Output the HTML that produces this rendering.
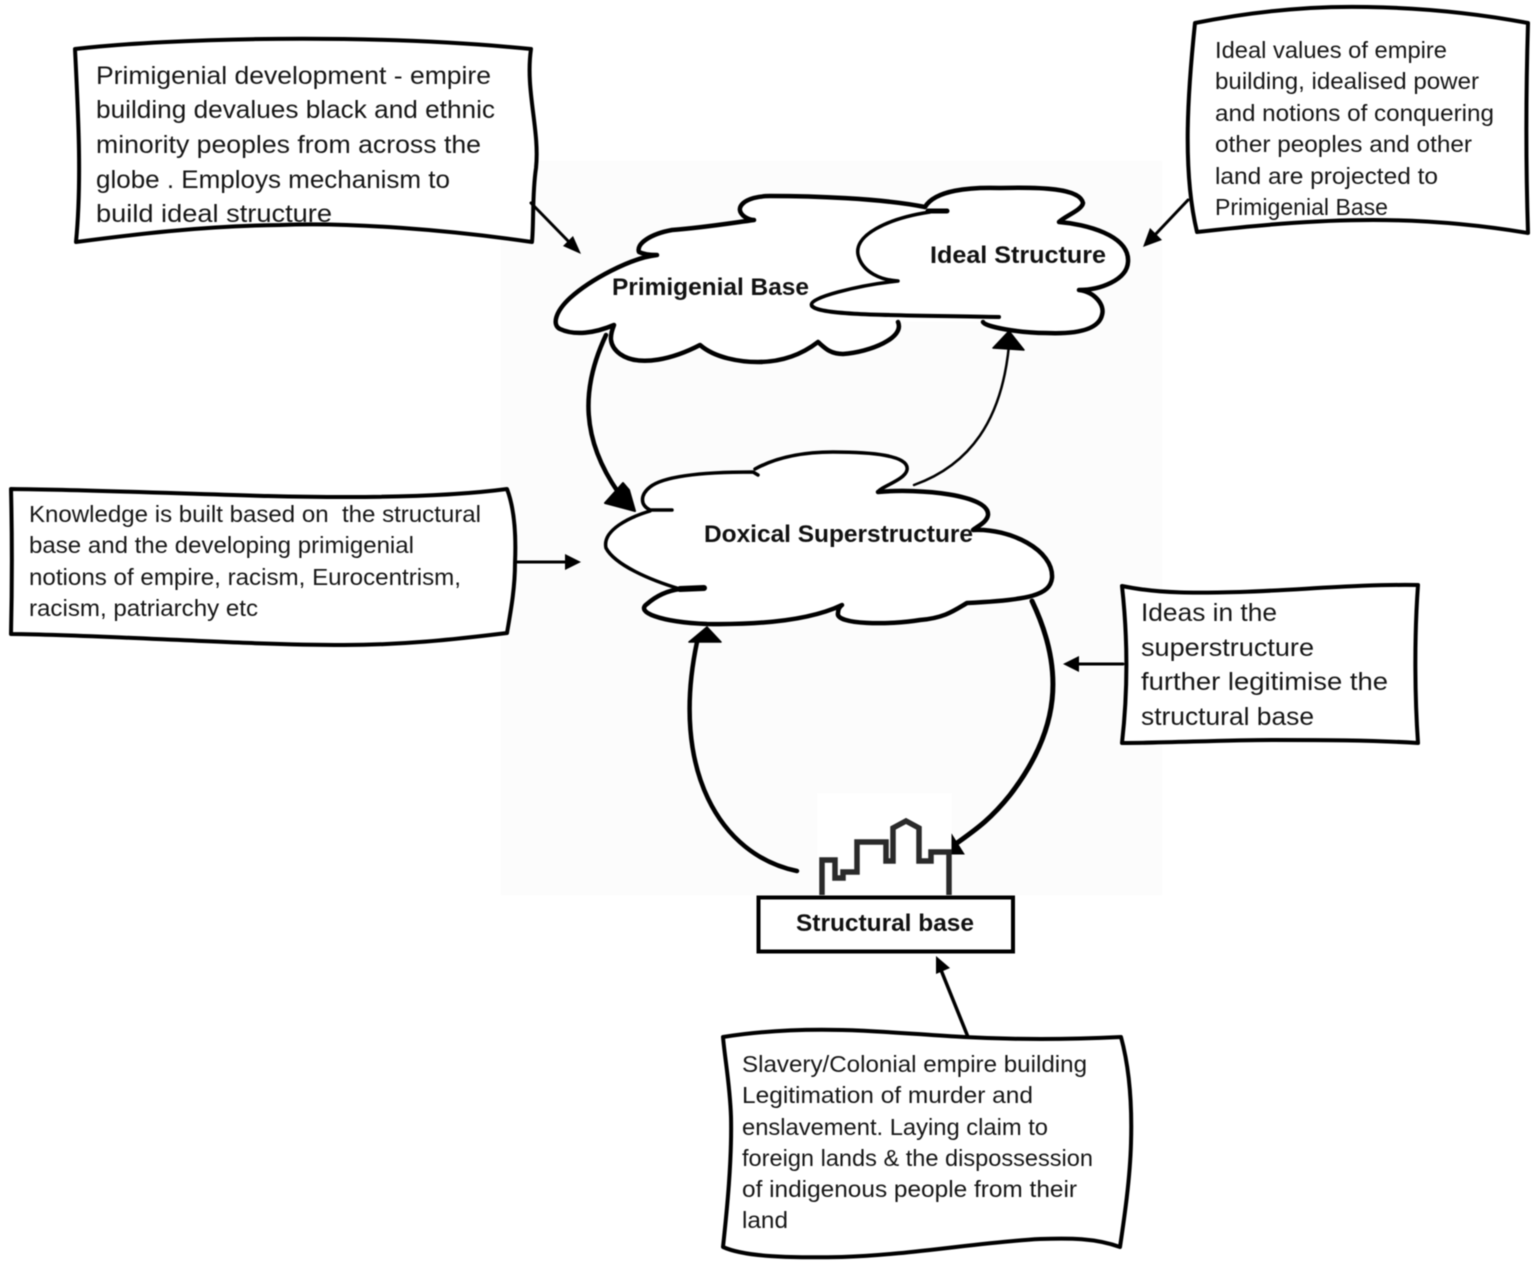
<!DOCTYPE html>
<html>
<head>
<meta charset="utf-8">
<style>
html,body{margin:0;padding:0;background:#fff;width:1535px;height:1266px;overflow:hidden}
svg{display:block;filter:blur(0.45px)}
text{font-family:"Liberation Sans",sans-serif;fill:#161616}
.a{font-size:25px}
.b{font-size:23px}
.l{font-size:24px;font-weight:bold;fill:#111}
.o{fill:none;stroke:#000;stroke-linecap:round;stroke-linejoin:round}
.w{fill:#fff;stroke:none}
</style>
</head>
<body>
<svg width="1535" height="1266" viewBox="0 0 1535 1266" xmlns="http://www.w3.org/2000/svg">
<rect width="1535" height="1266" fill="#fff"/>
<rect x="501" y="161" width="661" height="734" fill="#fcfcfc"/>
<rect x="817" y="793" width="135" height="102" fill="#fff"/>

<!-- Text boxes -->
<path class="o" style="fill:#fff" stroke-width="4" d="M75 49 C 170 38,370 33,531 49 C 525 90,540 130,536 168 C 532 195,534 220,532 242 C 450 230,350 222,280 225 C 200 226,130 235,76 242 C 82 180,78 110,75 49 Z"/>
<path class="o" style="fill:#fff" stroke-width="4" d="M1195 23 C 1260 10,1320 6,1367 7 C 1430 8,1480 14,1528 23 C 1526 90,1526 170,1528 233 C 1480 225,1430 220,1373 220 C 1310 220,1250 226,1197 232 C 1182 170,1188 90,1195 23 Z"/>
<path class="o" style="fill:#fff" stroke-width="4" d="M11 489 C 100 490,190 494,268 496 C 350 498,440 498,507 489 C 515 510,516 540,515 563 C 515 590,510 615,507 633 C 450 640,400 645,344 645 C 240 645,110 635,11 634 C 12 590,12 530,11 489 Z"/>
<path class="o" style="fill:#fff" stroke-width="4" d="M1122 586 C 1160 594,1200 593,1240 592 C 1300 590,1360 584,1418 585 C 1414 640,1415 700,1418 743 C 1370 740,1320 740,1273 740 C 1220 740,1170 743,1122 743 C 1128 690,1128 640,1122 586 Z"/>
<path class="o" style="fill:#fff" stroke-width="4" d="M723 1037 C 760 1031,800 1029,842 1030 C 885 1031,925 1035,964 1037 C 1020 1040,1080 1039,1121 1037 C 1130 1070,1132 1110,1131 1143 C 1130 1180,1124 1220,1120 1247 C 1095 1238,1070 1238,1040 1239 C 980 1242,910 1255,842 1257 C 790 1258,745 1257,723 1247 C 727 1210,732 1160,731 1117 C 730 1085,725 1060,723 1037 Z"/>

<!-- Straight arrows -->
<path class="o" stroke-width="3" d="M531 203 L572 245"/>
<polygon points="581,254 563,246 573,236"/>
<path class="o" stroke-width="3" d="M1188 200 L1152 238"/>
<polygon points="1143,247 1150,228 1162,240"/>
<path class="o" stroke-width="3" d="M515 562 L568 562"/>
<polygon points="581,562 565,554 565,570"/>
<path class="o" stroke-width="3" d="M1123 664 L1076 664"/>
<polygon points="1063,664 1079,656 1079,672"/>
<path class="o" stroke-width="3.5" d="M968 1037 L941 970"/>
<polygon points="936,956 950,968 936,974"/>

<!-- Cloud fills -->
<path class="w" d="M925 207 C 880 198,810 196,770 196 C 745 196,732 208,745 217 Q 750 220 754 220 C 725 224,700 228,672 230 C 650 234,636 244,639 252 Q 645 255 657 255 C 630 258,590 280,570 298 C 555 312,552 325,560 329 C 575 336,595 333,614 325 C 610 335,608 345,620 354 C 640 368,675 358,700 345 C 715 358,740 362,758 362 C 785 362,805 352,818 342 C 825 348,830 354,843 354 C 870 352,905 338,898 322 L 983 322 L 1046 333 C 1070 334,1098 332,1102 315 C 1105 305,1095 292,1079 290 C 1100 290,1127 280,1128 262 C 1130 235,1085 224,1059 222 C 1065 216,1082 210,1083 203 C 1080 188,1040 187,1000 188 C 970 187,935 190,925 207 Z"/>
<path class="w" d="M672 510 L650 510 C 640 505,640 495,650 487 C 665 475,710 472,753 472 C 790 452,833 452,833 452 C 870 452,910 455,907 470 C 905 480,880 487,878 492 C 920 488,990 495,988 515 C 987 522,978 526,973 530 C 1010 528,1054 550,1052 578 C 1050 595,1030 600,967 603 C 955 610,945 618,920 620 C 890 625,835 625,838 613 Q 838 608 842 605 C 815 618,770 625,707 624 C 660 622,635 612,647 604 C 655 597,665 591,680 589 C 650 580,615 565,606 548 C 602 530,630 517,650 511 Z"/>

<!-- Curved arrows -->
<path class="o" stroke-width="4.5" d="M606 335 C 580 390,582 440,618 492"/>
<polygon points="623,483 605,503 635,511 629,490" stroke="#000" stroke-width="2" stroke-linejoin="round"/>
<path class="o" stroke-width="2.5" d="M914 485 C 970 465,1002 420,1009 345"/>
<polygon points="1009,331 993,348 1024,350" stroke="#000" stroke-width="1.5" stroke-linejoin="round"/>
<path class="o" stroke-width="4.5" d="M797 871 C 720 855,670 770,697 642"/>
<polygon points="707,627 689,642 721,642" stroke="#000" stroke-width="1.5" stroke-linejoin="round"/>
<path class="o" stroke-width="5" d="M1032 601 C 1065 670,1060 730,1010 795 C 990 820,975 830,957 843"/>
<polygon points="952,835 964,854 952,854" stroke="#000" stroke-width="1"/>

<!-- Primigenial Base outline -->
<path class="o" stroke-width="4.5" d="M925 207 C 880 198,810 196,770 196 C 745 196,732 208,745 217 Q 750 220 754 220 C 725 224,700 228,672 230 C 650 234,636 244,639 252 Q 645 255 657 255 C 630 258,590 280,570 298 C 555 312,552 325,560 329 C 575 336,595 333,614 325 C 610 335,608 345,620 354 C 640 368,675 358,700 345 C 715 358,740 362,758 362 C 785 362,805 352,818 342 C 825 348,830 354,843 354 C 870 352,905 338,898 322"/>
<!-- Ideal Structure outline -->
<path class="o" stroke-width="3.5" d="M930 212 C 890 218,850 235,859 258 C 864 272,880 280,898 281 C 860 285,805 298,812 306"/>
<path class="o" stroke-width="4" d="M812 306 C 820 316,900 315,999 317"/>
<path class="o" stroke-width="5" d="M928 211 L947 211"/>
<path class="o" stroke-width="4.500" d="M925 207 C 935 190,970 187,1000 188 C 1040 187,1080 188,1083 203 C 1082 210,1065 216,1059 222 C 1085 224,1130 235,1128 262 C 1127 280,1100 290,1079 290 C 1095 292,1105 305,1102 315 C 1098 332,1070 334,1046 333 C 1020 333,985 327,983 322"/>

<!-- Doxical Superstructure outline -->
<path class="o" stroke-width="3.5" d="M672 510 L650 510 C 640 505,640 495,650 487 C 665 475,710 472,753 472 L758 475"/>
<path class="o" stroke-width="3.5" d="M755 469 C 775 458,800 452,833 452 C 870 452,910 455,907 470 C 905 480,880 487,878 492"/>
<path class="o" stroke-width="4.5" d="M878 492 C 920 488,990 495,988 515 C 987 522,978 526,973 530 C 1010 528,1054 550,1052 578 C 1050 595,1030 600,967 603 C 955 610,945 618,920 620 C 890 625,835 625,838 613 Q 838 608 842 605 C 815 618,770 625,707 624 C 660 622,635 612,647 604 C 655 597,665 591,680 589"/>
<path class="o" stroke-width="6" d="M680 589 L704 588"/>
<path class="o" stroke-width="3.5" d="M680 589 C 650 580,615 565,606 548 C 602 530,630 517,650 511"/>

<!-- Building -->
<path d="M822 895 V860 H835 V878 H843 V872 H857 V842 H886 V861 H893 V828 L906 821 L919 828 V861 H931 V852 H949 V895" fill="none" stroke="#2a2a2a" stroke-width="5.500"/>
<rect x="758.500" y="897.500" width="254.500" height="54" fill="#fff" stroke="#000" stroke-width="4"/>

<!-- Labels -->
<text class="l" x="612" y="295" textLength="197" lengthAdjust="spacingAndGlyphs">Primigenial Base</text>
<text class="l" x="930" y="263" textLength="176" lengthAdjust="spacingAndGlyphs">Ideal Structure</text>
<text class="l" x="704" y="542" textLength="269" lengthAdjust="spacingAndGlyphs">Doxical Superstructure</text>
<text class="l" x="796" y="931" textLength="178" lengthAdjust="spacingAndGlyphs">Structural base</text>

<!-- Box 1 -->
<text class="a" x="96" y="84" textLength="395" lengthAdjust="spacingAndGlyphs">Primigenial development - empire</text>
<text class="a" x="96" y="118" textLength="399" lengthAdjust="spacingAndGlyphs">building devalues black and ethnic</text>
<text class="a" x="96" y="153" textLength="385" lengthAdjust="spacingAndGlyphs">minority peoples from across the</text>
<text class="a" x="96" y="188" textLength="354" lengthAdjust="spacingAndGlyphs">globe . Employs mechanism to</text>
<text class="a" x="96" y="222" textLength="236" lengthAdjust="spacingAndGlyphs">build ideal structure</text>

<!-- Box 2 -->
<text class="b" x="1215" y="58" textLength="232" lengthAdjust="spacingAndGlyphs">Ideal values of empire</text>
<text class="b" x="1215" y="89" textLength="264" lengthAdjust="spacingAndGlyphs">building, idealised power</text>
<text class="b" x="1215" y="121" textLength="279" lengthAdjust="spacingAndGlyphs">and notions of conquering</text>
<text class="b" x="1215" y="152" textLength="257" lengthAdjust="spacingAndGlyphs">other peoples and other</text>
<text class="b" x="1215" y="184" textLength="223" lengthAdjust="spacingAndGlyphs">land are projected to</text>
<text class="b" x="1215" y="215" textLength="173" lengthAdjust="spacingAndGlyphs">Primigenial Base</text>

<!-- Box 3 -->
<text class="b" x="29" y="522" textLength="452" lengthAdjust="spacingAndGlyphs" xml:space="preserve">Knowledge is built based on  the structural</text>
<text class="b" x="29" y="553" textLength="385" lengthAdjust="spacingAndGlyphs">base and the developing primigenial</text>
<text class="b" x="29" y="585" textLength="432" lengthAdjust="spacingAndGlyphs">notions of empire, racism, Eurocentrism,</text>
<text class="b" x="29" y="616" textLength="229" lengthAdjust="spacingAndGlyphs">racism, patriarchy etc</text>

<!-- Box 4 -->
<text class="a" x="1141" y="621" textLength="136" lengthAdjust="spacingAndGlyphs">Ideas in the</text>
<text class="a" x="1141" y="656" textLength="173" lengthAdjust="spacingAndGlyphs">superstructure</text>
<text class="a" x="1141" y="690" textLength="247" lengthAdjust="spacingAndGlyphs">further legitimise the</text>
<text class="a" x="1141" y="725" textLength="173" lengthAdjust="spacingAndGlyphs">structural base</text>

<!-- Box 5 -->
<text class="b" x="742" y="1072" textLength="345" lengthAdjust="spacingAndGlyphs">Slavery/Colonial empire building</text>
<text class="b" x="742" y="1103" textLength="291" lengthAdjust="spacingAndGlyphs">Legitimation of murder and</text>
<text class="b" x="742" y="1135" textLength="306" lengthAdjust="spacingAndGlyphs">enslavement. Laying claim to</text>
<text class="b" x="742" y="1166" textLength="351" lengthAdjust="spacingAndGlyphs">foreign lands &amp; the dispossession</text>
<text class="b" x="742" y="1197" textLength="335" lengthAdjust="spacingAndGlyphs">of indigenous people from their</text>
<text class="b" x="742" y="1228" textLength="46" lengthAdjust="spacingAndGlyphs">land</text>
</svg>
</body>
</html>
